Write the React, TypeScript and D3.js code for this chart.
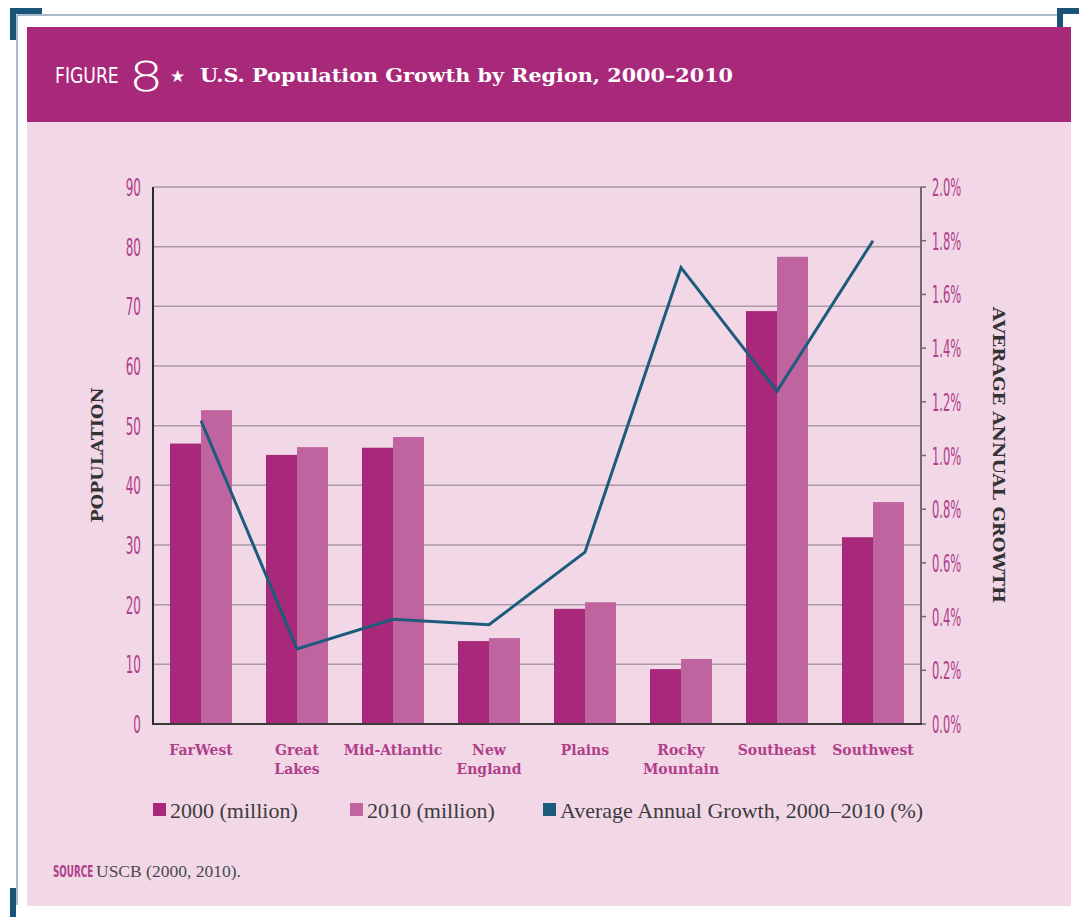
import React from "react";
import * as d3 from "d3";

const categories = ["FarWest", "Great Lakes", "Mid-Atlantic", "New England", "Plains", "Rocky Mountain", "Southeast", "Southwest"];
const pop2000 = [47.0, 45.1, 46.3, 13.9, 19.3, 9.2, 69.2, 31.3];
const pop2010 = [52.6, 46.4, 48.1, 14.4, 20.4, 10.9, 78.3, 37.2];
const growth = [1.13, 0.28, 0.39, 0.37, 0.64, 1.70, 1.24, 1.80];
const leftTicks = [0, 10, 20, 30, 40, 50, 60, 70, 80, 90];
const rightTicks = [0, 0.2, 0.4, 0.6, 0.8, 1.0, 1.2, 1.4, 1.6, 1.8, 2.0];
const legendItems = ["2000 (million)", "2010 (million)", "Average Annual Growth, 2000–2010 (%)"];

const C2000 = "#a8287a";
const C2010 = "#c0649f";
const CLINE = "#1c5b7c";
const PINK_TXT = "#b0408a";
const PANEL = "#f2d7e7";

const W = 1079, H = 917;
const plot = { left: 153, right: 921, top: 187, bottom: 724 };

function Narrow(props: { x: number; y: number; anchor?: string; size: number; sx: number; fill: string; weight?: string | number; children: React.ReactNode }) {
  return (
    <text
      transform={`translate(${props.x},${props.y}) scale(${props.sx},1)`}
      textAnchor={props.anchor || "start"}
      fill={props.fill}
      fontFamily="'DejaVu Sans', sans-serif"
      fontWeight={props.weight || "normal"}
      fontSize={props.size}
    >
      {props.children}
    </text>
  );
}

export default function App() {
  const x = d3.scaleBand<string>().domain(categories).range([plot.left, plot.right]).paddingInner(0.354).paddingOuter(0.177);
  const x0 = d3.scaleBand<string>().domain(categories).range([plot.left, plot.right]);
  const yL = d3.scaleLinear().domain([0, 90]).range([plot.bottom, plot.top]);
  const yR = d3.scaleLinear().domain([0, 2]).range([plot.bottom, plot.top]);
  const bw = x.bandwidth() / 2;
  const line = d3.line<number>().x((_, i) => (x0(categories[i]) as number) + x0.bandwidth() / 2).y((d) => yR(d));
  const slab = "'DejaVu Serif', serif";
  const legendX = [153, 350, 543];

  return (
    <svg width={W} height={H} style={{ position: "absolute", left: 0, top: 0 }} xmlns="http://www.w3.org/2000/svg">
      <rect x={0} y={0} width={W} height={H} fill="#ffffff" />
      {/* frame */}
      <line x1={17} y1={15} x2={1062} y2={15} stroke="#8aa3ba" strokeWidth={1.5} />
      <line x1={17} y1={15} x2={17} y2={905} stroke="#8aa3ba" strokeWidth={1.5} />
      <rect x={10} y={8} width={32} height={6} fill="#1a5479" />
      <rect x={10} y={8} width={6} height={32} fill="#1a5479" />
      <rect x={1057} y={8} width={22} height={6} fill="#1a5479" />
      <rect x={1057} y={8} width={6} height={32} fill="#1a5479" />
      <rect x={10} y={888} width={6} height={29} fill="#1a5479" />
      {/* panel */}
      <rect x={27} y={122} width={1044} height={784} fill={PANEL} />
      <rect x={27} y={27} width={1044} height={95} fill="#a8297a" />
      <Narrow x={55} y={83} size={21} sx={0.82} fill="#fff">FIGURE</Narrow>
      <text transform="translate(129,91) scale(1.35,1)" fill="#fff" fontFamily="'DejaVu Sans', sans-serif" fontWeight={200} fontSize={40}>8</text>
      <text x={170} y={82} fill="#fff" fontFamily="'DejaVu Sans', sans-serif" fontSize={17}>★</text>
      <text x={200} y={82} fill="#fff" fontFamily={slab} fontWeight="bold" fontSize={19} textLength={533} lengthAdjust="spacingAndGlyphs">U.S. Population Growth by Region, 2000–2010</text>

      {/* gridlines */}
      {leftTicks.slice(1).map((t) => (
        <line key={t} x1={plot.left} x2={plot.right} y1={yL(t)} y2={yL(t)} stroke="#a99aa5" strokeWidth={1.5} />
      ))}
      {/* bars */}
      {categories.map((c, i) => (
        <g key={c}>
          <rect x={x(c)} y={yL(pop2000[i])} width={bw} height={yL(0) - yL(pop2000[i])} fill={C2000} />
          <rect x={(x(c) as number) + bw} y={yL(pop2010[i])} width={bw} height={yL(0) - yL(pop2010[i])} fill={C2010} />
        </g>
      ))}
      {/* axes */}
      <line x1={plot.right} x2={plot.right} y1={plot.top} y2={plot.bottom} stroke="#6f6a6d" strokeWidth={2} />
      {rightTicks.map((t) => (
        <line key={t} x1={plot.right} x2={plot.right + 5} y1={yR(t)} y2={yR(t)} stroke="#6f6a6d" strokeWidth={1.5} />
      ))}
      <line x1={plot.left} x2={plot.left} y1={plot.top} y2={plot.bottom + 1} stroke="#2a2a2a" strokeWidth={2} />
      <line x1={plot.left} x2={plot.right + 1} y1={plot.bottom} y2={plot.bottom} stroke="#3a3a3a" strokeWidth={2} />
      {/* line */}
      <path d={line(growth) || ""} fill="none" stroke={CLINE} strokeWidth={3} strokeLinejoin="miter" />
      {/* tick labels */}
      {leftTicks.map((t) => (
        <Narrow key={t} x={141} y={yL(t) + 9} anchor="end" size={24} sx={0.5} weight={500} fill={PINK_TXT}>{t}</Narrow>
      ))}
      {rightTicks.map((t) => (
        <Narrow key={t} x={932} y={yR(t) + 9} size={24} sx={0.48} weight={500} fill={PINK_TXT}>{t.toFixed(1)}%</Narrow>
      ))}
      {/* axis titles */}
      <text transform={`translate(103,455) rotate(-90)`} textAnchor="middle" fill="#333" fontFamily={slab} fontWeight="bold" fontSize={16} textLength={135} lengthAdjust="spacingAndGlyphs">POPULATION</text>
      <text transform={`translate(993,455) rotate(90)`} textAnchor="middle" fill="#333" fontFamily={slab} fontWeight="bold" fontSize={16} textLength={296} lengthAdjust="spacingAndGlyphs">AVERAGE ANNUAL GROWTH</text>
      {/* category labels */}
      {categories.map((c) => {
        const cx = (x0(c) as number) + x0.bandwidth() / 2;
        const parts = c === "Great Lakes" || c === "New England" || c === "Rocky Mountain" ? c.split(" ") : [c];
        return (
          <text key={c} x={cx} y={755} textAnchor="middle" fill={PINK_TXT} fontFamily={slab} fontWeight="bold" fontSize={14}>
            {parts.map((p, j) => (
              <tspan key={j} x={cx} dy={j === 0 ? 0 : 19}>{p}</tspan>
            ))}
          </text>
        );
      })}
      {/* legend */}
      {legendItems.map((l, i) => (
        <g key={l}>
          <rect x={legendX[i]} y={803} width={13} height={13} fill={[C2000, C2010, CLINE][i]} />
          <text x={legendX[i] + 17} y={818} fill="#3c3c3c" fontFamily="'Liberation Serif', serif" fontSize={22}>{l}</text>
        </g>
      ))}
      {/* source */}
      <Narrow x={53} y={877} size={16} sx={0.55} weight="bold" fill={PINK_TXT}>SOURCE</Narrow>
      <text x={96} y={877} fill="#4a4a4a" fontFamily="'Liberation Serif', serif" fontSize={17.5}>USCB (2000, 2010).</text>
    </svg>
  );
}
